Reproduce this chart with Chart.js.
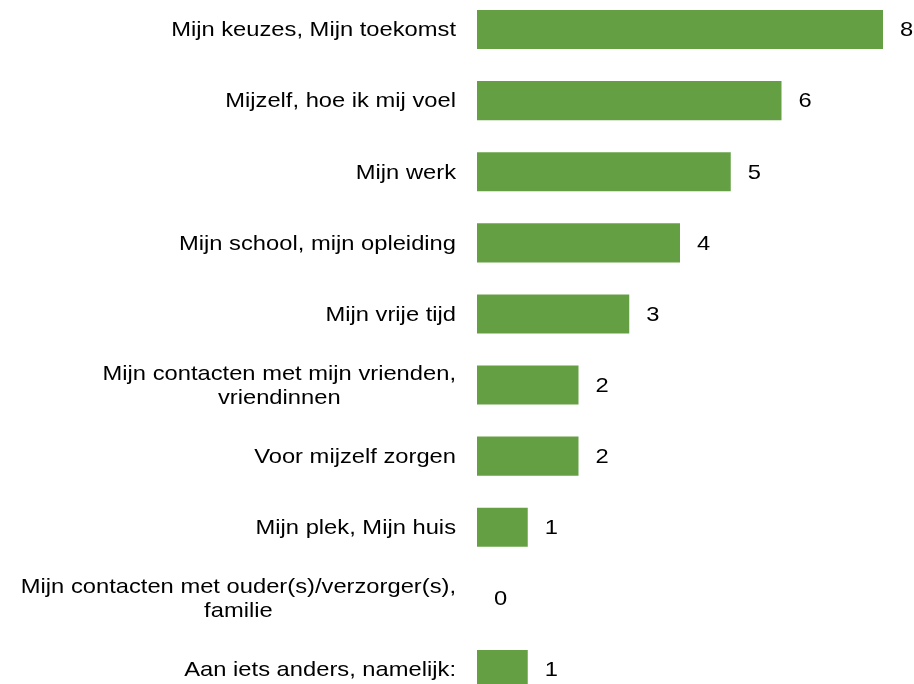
<!DOCTYPE html>
<html>
<head>
<meta charset="utf-8">
<script src="https://cdn.jsdelivr.net/npm/chart.js@4.4.0/dist/chart.umd.min.js"></script>
<style>
    html, body { margin: 0; padding: 0; background: #fff; overflow: hidden; }
    #wrap { position: absolute; left: 0; top: -6px; width: 914px; height: 711px; }
</style>
</head>
<body>
<div id="wrap"><canvas id="chart"></canvas></div>
<script>
var categories = [
    ['Mijn keuzes, Mijn toekomst'],
    ['Mijzelf, hoe ik mij voel'],
    ['Mijn werk'],
    ['Mijn school, mijn opleiding'],
    ['Mijn vrije tijd'],
    ['Mijn contacten met mijn vrienden,', 'vriendinnen'],
    ['Voor mijzelf zorgen'],
    ['Mijn plek, Mijn huis'],
    ['Mijn contacten met ouder(s)/verzorger(s),', 'familie'],
    ['Aan iets anders, namelijk:']
];
var values = [8, 6, 5, 4, 3, 2, 2, 1, 0, 1];

var barColor = '#64a043';
var fontSize = 21;
var stretch = 1.13; // the reference text is a bit wider than normal Arial

function drawText(ctx, text, x, y, align) {
    ctx.save();
    ctx.translate(x, y);
    ctx.scale(stretch, 1);
    ctx.textAlign = align;
    ctx.fillText(text, 0, 0);
    ctx.restore();
}

var labelPlugin = {
    id: 'labels',
    afterDatasetsDraw: function(chart) {
        var ctx = chart.ctx;
        var yScale = chart.scales.y;
        var xScale = chart.scales.x;
        ctx.save();
        ctx.font = fontSize + 'px "Liberation Sans", Arial, sans-serif';
        ctx.fillStyle = '#000';
        ctx.textBaseline = 'middle';

        // category labels, block right aligned, lines centred in the block
        var rightEdge = 456;
        var lineHeight = 24;
        categories.forEach(function(lines, i) {
            var cy = yScale.getPixelForValue(i) + 1;
            var maxW = 0;
            lines.forEach(function(l) {
                maxW = Math.max(maxW, ctx.measureText(l).width * stretch);
            });
            var cx = rightEdge - maxW / 2;
            var startY = cy - (lines.length - 1) * lineHeight / 2;
            lines.forEach(function(l, j) {
                drawText(ctx, l, cx, startY + j * lineHeight, 'center');
            });
        });

        // value labels after the bars
        values.forEach(function(v, i) {
            var x = xScale.getPixelForValue(v) + 17;
            var y = yScale.getPixelForValue(i) + 1;
            drawText(ctx, String(v), x, y, 'left');
        });
        ctx.restore();
    }
};

new Chart(document.getElementById('chart'), {
    type: 'bar',
    data: {
        labels: categories,
        datasets: [{
            data: values,
            backgroundColor: barColor,
            borderWidth: 0,
            barPercentage: 0.55,
            categoryPercentage: 1
        }]
    },
    options: {
        indexAxis: 'y',
        responsive: true,
        maintainAspectRatio: false,
        animation: false,
        layout: { padding: { left: 477, right: 31, top: 0, bottom: 0 } },
        plugins: {
            legend: { display: false },
            tooltip: { enabled: false }
        },
        scales: {
            x: { display: false, min: 0, max: 8 },
            y: { display: false }
        }
    },
    plugins: [labelPlugin]
});
</script>
</body>
</html>
